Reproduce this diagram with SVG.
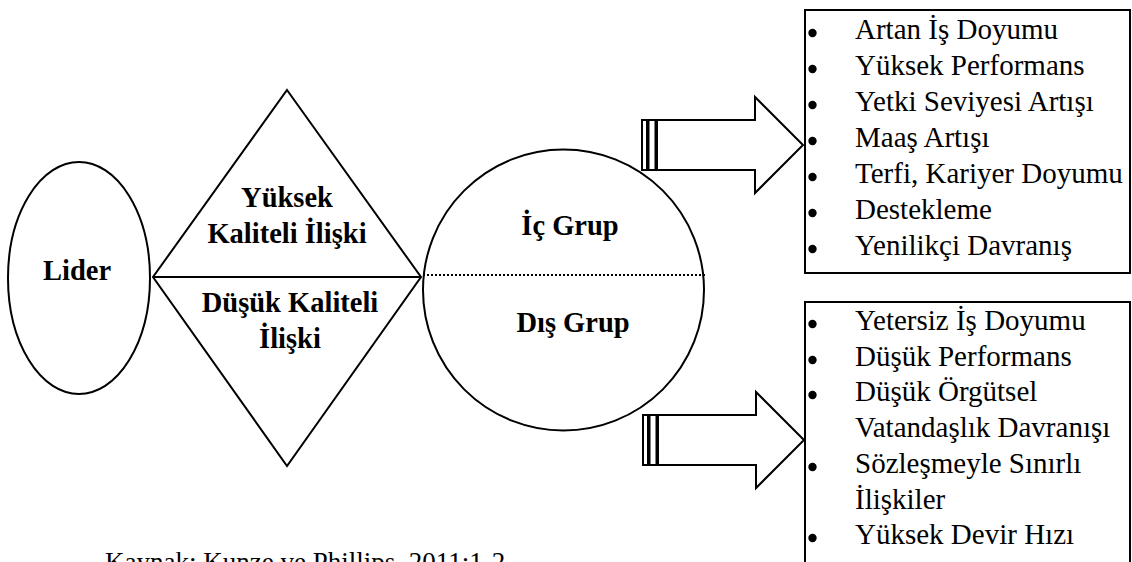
<svg xmlns="http://www.w3.org/2000/svg" width="1132" height="562" viewBox="0 0 1132 562">
  <style>
    .shape { fill: #fff; stroke: #000; stroke-width: 2; }
    .bold { font-weight: bold; font-size: 28.5px; fill: #000; text-anchor: middle; }
    .item { font-size: 29px; fill: #000; }
    .note { font-size: 27px; fill: #000; }
    .dot { fill: #000; }
  </style>
  <defs>
    <!-- striped block arrow; translated into place by each <use> -->
    <g id="striped-arrow">
      <rect class="shape" x="642" y="0" width="5" height="50" stroke-width="1.5"/>
      <rect class="shape" x="648.5" y="0" width="7" height="50" stroke-width="1.5"/>
      <polygon class="shape" points="657,0 755,0 755,-23 803,25 755,73 755,50 657,50"/>
    </g>
  </defs>

  <rect width="1132" height="562" fill="#fff"/>

  <g font-family="Liberation Serif, Times New Roman, serif">
    <!-- Leader -->
    <g id="lider">
      <ellipse class="shape" cx="79" cy="278" rx="71" ry="116"/>
      <text class="bold" x="77" y="280">Lider</text>
    </g>

    <!-- Relationship quality diamond -->
    <g id="iliski">
      <polygon class="shape" points="287,90 421,277 287,466 153,277"/>
      <line x1="153" y1="277" x2="421" y2="277" stroke="#000" stroke-width="2"/>
      <text class="bold" x="287" y="207">Yüksek</text>
      <text class="bold" x="287" y="243">Kaliteli İlişki</text>
      <text class="bold" x="290" y="312">Düşük Kaliteli</text>
      <text class="bold" x="290" y="348">İlişki</text>
    </g>

    <!-- In-group / out-group circle -->
    <g id="grup">
      <circle class="shape" cx="563.5" cy="290" r="140.5"/>
      <line x1="423" y1="275" x2="707" y2="275" stroke="#000" stroke-width="2" stroke-dasharray="2 2"/>
      <text class="bold" x="570" y="235">İç Grup</text>
      <text class="bold" x="573" y="332">Dış Grup</text>
    </g>

    <!-- Arrows -->
    <g id="connectors">
      <use href="#striped-arrow" transform="translate(0,120)"/>
      <use href="#striped-arrow" transform="translate(1,415)"/>
    </g>

    <!-- In-group outcomes -->
    <g id="ic-grup-sonuclar">
      <rect class="shape" x="805" y="10" width="325" height="263"/>
      <circle class="dot" cx="812.5" cy="33" r="4.2"/>
      <circle class="dot" cx="812.5" cy="69" r="4.2"/>
      <circle class="dot" cx="812.5" cy="105" r="4.2"/>
      <circle class="dot" cx="812.5" cy="141" r="4.2"/>
      <circle class="dot" cx="812.5" cy="177" r="4.2"/>
      <circle class="dot" cx="812.5" cy="213" r="4.2"/>
      <circle class="dot" cx="812.5" cy="249" r="4.2"/>
      <text class="item" x="855" y="39">Artan İş Doyumu</text>
      <text class="item" x="855" y="75">Yüksek Performans</text>
      <text class="item" x="855" y="111">Yetki Seviyesi Artışı</text>
      <text class="item" x="855" y="147">Maaş Artışı</text>
      <text class="item" x="855" y="183">Terfi, Kariyer Doyumu</text>
      <text class="item" x="855" y="219">Destekleme</text>
      <text class="item" x="855" y="255">Yenilikçi Davranış</text>
    </g>

    <!-- Out-group outcomes -->
    <g id="dis-grup-sonuclar">
      <rect class="shape" x="805" y="302" width="325" height="280"/>
      <circle class="dot" cx="812.5" cy="324" r="4.2"/>
      <circle class="dot" cx="812.5" cy="360" r="4.2"/>
      <circle class="dot" cx="812.5" cy="395" r="4.2"/>
      <circle class="dot" cx="812.5" cy="467" r="4.2"/>
      <circle class="dot" cx="812.5" cy="538" r="4.2"/>
      <text class="item" x="855" y="330">Yetersiz İş Doyumu</text>
      <text class="item" x="855" y="366">Düşük Performans</text>
      <text class="item" x="855" y="401">Düşük Örgütsel</text>
      <text class="item" x="855" y="437">Vatandaşlık Davranışı</text>
      <text class="item" x="855" y="473">Sözleşmeyle Sınırlı</text>
      <text class="item" x="855" y="509">İlişkiler</text>
      <text class="item" x="855" y="544">Yüksek Devir Hızı</text>
    </g>

    <!-- Source note -->
    <text class="note" x="105" y="571">Kaynak: Kunze ve Phillips, 2011:1-2</text>
  </g>
</svg>
